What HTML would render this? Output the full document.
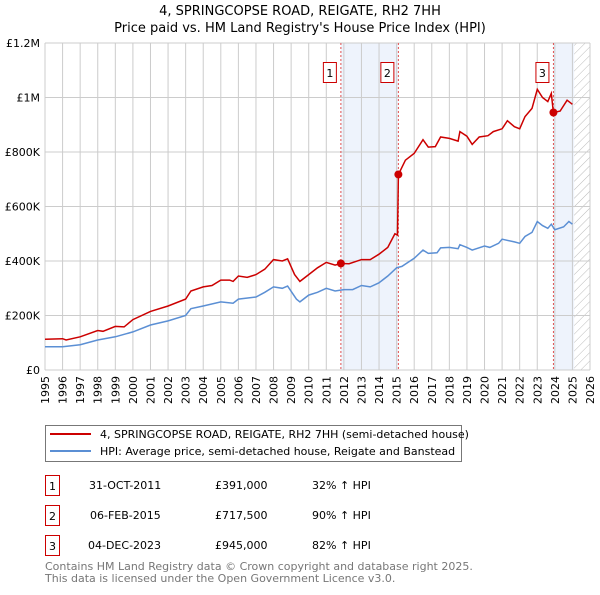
<!DOCTYPE html>
<html><head><meta charset="utf-8"><style>
body{margin:0;background:#fff;font-family:"Liberation Sans","DejaVu Sans",sans-serif;}
svg text{font-family:"DejaVu Sans","Liberation Sans",sans-serif;}
</style></head><body>
<svg id="chart" width="600" height="590" xmlns="http://www.w3.org/2000/svg">
<text x="300" y="15" text-anchor="middle" font-size="13" fill="#000">4, SPRINGCOPSE ROAD, REIGATE, RH2 7HH</text>
<text x="300" y="32" text-anchor="middle" font-size="13" fill="#000">Price paid vs. HM Land Registry's House Price Index (HPI)</text>
<defs><pattern id="hatch" width="6" height="6" patternUnits="userSpaceOnUse" patternTransform="rotate(45)"><line x1="0" y1="0" x2="0" y2="6" stroke="#bbb" stroke-width="1"/></pattern></defs>
<g id="grid"></g><g id="marks"></g>
<!-- legend -->
<rect x="45.5" y="425.5" width="416" height="36" fill="#fff" stroke="#777"/>
<line x1="50" y1="434" x2="91" y2="434" stroke="#cc0000" stroke-width="2"/>
<text x="100" y="438" font-size="11">4, SPRINGCOPSE ROAD, REIGATE, RH2 7HH (semi-detached house)</text>
<line x1="50" y1="451" x2="91" y2="451" stroke="#5b8fd4" stroke-width="2"/>
<text x="100" y="455" font-size="11">HPI: Average price, semi-detached house, Reigate and Banstead</text>
<g font-size="11">
<rect x="45.5" y="475.5" width="14" height="20" fill="#fff" stroke="#cc0000"/><text x="52.5" y="490" text-anchor="middle">1</text>
<text x="89" y="489">31-OCT-2011</text><text x="215" y="489">£391,000</text><text x="312" y="489">32% ↑ HPI</text>
<rect x="45.5" y="505.5" width="14" height="20" fill="#fff" stroke="#cc0000"/><text x="52.5" y="520" text-anchor="middle">2</text>
<text x="90" y="519">06-FEB-2015</text><text x="215" y="519">£717,500</text><text x="312" y="519">90% ↑ HPI</text>
<rect x="45.5" y="535.5" width="14" height="20" fill="#fff" stroke="#cc0000"/><text x="52.5" y="550" text-anchor="middle">3</text>
<text x="88" y="549">04-DEC-2023</text><text x="215" y="549">£945,000</text><text x="312" y="549">82% ↑ HPI</text>
</g>
<text x="45" y="570" font-size="11" fill="#777">Contains HM Land Registry data © Crown copyright and database right 2025.</text>
<text x="45" y="582" font-size="11" fill="#777">This data is licensed under the Open Government Licence v3.0.</text>
</svg>
<script>
const yTicks=[0,200000,400000,600000,800000,1000000,1200000];
const yTickLabels=["£0","£200K","£400K","£600K","£800K","£1M","£1.2M"];
const years=[1995,1996,1997,1998,1999,2000,2001,2002,2003,2004,2005,2006,2007,2008,2009,2010,2011,2012,2013,2014,2015,2016,2017,2018,2019,2020,2021,2022,2023,2024,2025,2026];
const redX=[1995,1996,1996.2,1997,1998,1998.3,1999,1999.5,2000,2001,2002,2003,2003.3,2004,2004.5,2005,2005.5,2005.7,2006,2006.5,2007,2007.5,2008,2008.5,2008.8,2009.2,2009.5,2010,2010.5,2011,2011.5,2011.83,2012.3,2013,2013.5,2014,2014.5,2014.9,2015.05,2015.1,2015.5,2016,2016.5,2016.8,2017.2,2017.5,2018,2018.5,2018.6,2019,2019.3,2019.7,2020.2,2020.5,2021,2021.3,2021.7,2022,2022.3,2022.7,2023,2023.3,2023.6,2023.8,2023.92,2024.3,2024.7,2025];
const redY=[113,115,110,122,145,142,160,158,185,215,235,260,290,305,310,330,330,325,345,340,350,370,405,400,408,350,325,350,375,395,385,391,390,405,405,425,450,500,495,717.5,770,795,845,818,820,855,850,840,875,858,828,855,860,875,885,915,893,885,930,960,1030,1000,985,1015,945,950,990,975];
const hpiX=[1995,1996,1997,1998,1999,2000,2001,2002,2003,2003.3,2004,2005,2005.7,2006,2007,2007.5,2008,2008.5,2008.8,2009.3,2009.5,2010,2010.5,2011,2011.5,2012,2012.5,2013,2013.5,2014,2014.5,2015,2015.3,2016,2016.5,2016.8,2017.3,2017.5,2018,2018.5,2018.6,2019,2019.3,2020,2020.3,2020.8,2021,2021.7,2022,2022.3,2022.7,2023,2023.3,2023.6,2023.8,2024,2024.5,2024.8,2025];
const hpiY=[85,85,93,110,122,140,165,180,200,225,235,250,245,260,268,285,305,300,308,260,250,275,285,300,290,295,295,310,305,320,345,375,380,410,440,428,430,448,450,445,460,450,440,455,450,465,480,470,465,490,505,545,530,520,535,515,525,545,535];
const saleX=[2011.83,2015.1,2023.92];
const saleY=[391,717.5,945];
const saleLabels=["1","2","3"];
const NS="http://www.w3.org/2000/svg";
const X0=45,X1=590,Y0=370,Y1=43;
const xs=y=>X0+(y-1995)*(X1-X0)/31;
const ys=v=>Y0-v*(Y0-Y1)/1200000;
function mk(t,a,p){const e=document.createElementNS(NS,t);for(const k in a)e.setAttribute(k,a[k]);p.appendChild(e);return e;}
const g=document.getElementById('grid'),m=document.getElementById('marks');
// shaded regions
let s1=mk('rect',{x:xs(saleX[0]),y:Y1,width:xs(saleX[1])-xs(saleX[0]),height:Y0-Y1,fill:'#eef3fc'},g);


let s2=mk('rect',{x:xs(saleX[2]),y:Y1,width:xs(2025.1)-xs(saleX[2]),height:Y0-Y1,fill:'#eef3fc'},g);


let ht=mk('rect',{x:xs(2025.1),y:Y1,width:X1-xs(2025.1),height:Y0-Y1,fill:'url(#hatch)'},g);


years.forEach(yr=>{
 const l=mk('line',{x1:xs(yr),x2:xs(yr),y1:Y1,y2:Y0,stroke:'#ccc'},g);
 
 
 const t=mk('text',{x:0,y:0,'font-size':11,'text-anchor':'end',transform:`translate(${xs(yr)+4},${Y0+6}) rotate(-90)`},g);
 t.textContent=yr;
 
 
});
yTicks.forEach((v,i)=>{
 const l=mk('line',{x1:X0,x2:X1,y1:ys(v),y2:ys(v),stroke:'#ccc'},g);
 
 
 const t=mk('text',{x:X0-5,y:ys(v)+4,'font-size':11,'text-anchor':'end'},g);
 t.textContent=yTickLabels[i];
 
 
});
saleX.forEach((x,i)=>{
 const l=mk('line',{x1:xs(x),x2:xs(x),y1:Y1,y2:Y0,stroke:'#e05050','stroke-dasharray':'2,2'},m);
 
 
 const r=mk('rect',{x:xs(x)-17.5,y:62.5,width:13,height:20,fill:'#fff',stroke:'#cc0000'},m);
 
 
 const t=mk('text',{x:xs(x)-11,y:77,'font-size':11,'text-anchor':'middle'},m);
 t.textContent=saleLabels[i];
 
 
});
function path(X,Y,c,n){const d=X.map((x,i)=>(i?'L':'M')+xs(x).toFixed(1)+','+ys(Y[i]*1000).toFixed(1)).join('');
 const p=mk('path',{d:d,fill:'none',stroke:c,'stroke-width':1.5},m);
 
 }
path(hpiX,hpiY,'#5b8fd4','hpi-line');
path(redX,redY,'#cc0000','property-line');
saleX.forEach((x,i)=>{
 const c=mk('circle',{cx:xs(x),cy:ys(saleY[i]*1000),r:4,fill:'#cc0000'},m);
 
 
});
</script>
</body></html>
